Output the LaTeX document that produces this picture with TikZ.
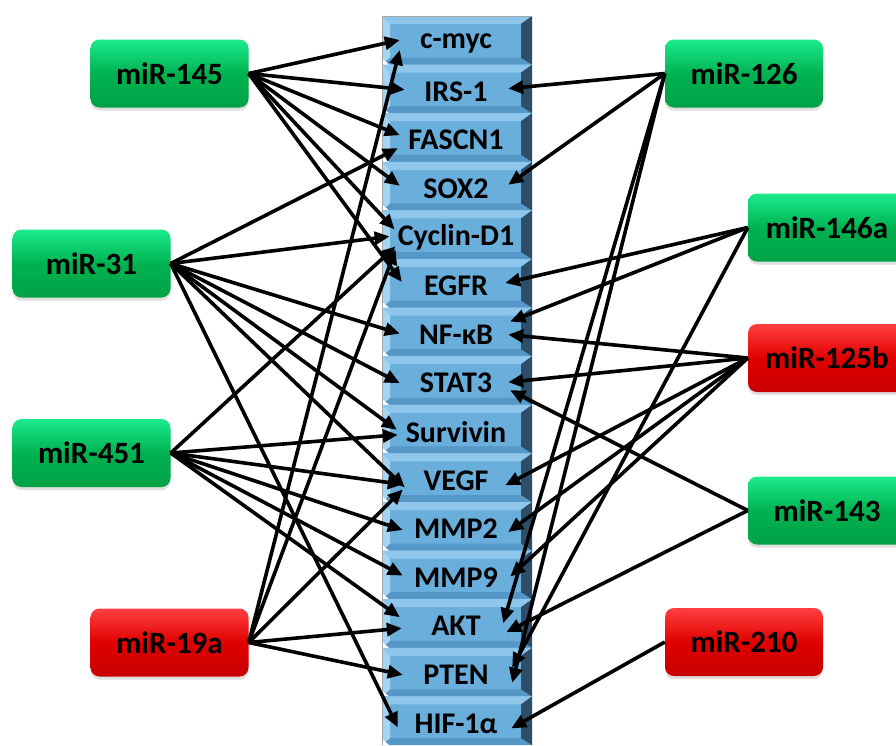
\documentclass[tikz,border=0pt]{standalone}
\usepackage{fontspec}
\setmainfont{Carlito}
\usetikzlibrary{arrows.meta,calc,shadows}
\definecolor{segmain}{HTML}{6AAEDB}
\definecolor{segtop}{HTML}{8FC7EC}
\definecolor{segbot}{HTML}{5597C6}
\definecolor{segright}{HTML}{2C4E68}
\definecolor{segleft}{HTML}{A6D5F2}
\definecolor{greenTop}{HTML}{1CEB8E}
\definecolor{greenMid}{HTML}{00B250}
\definecolor{greenBot}{HTML}{00A244}
\definecolor{redTop}{HTML}{FF4040}
\definecolor{redMid}{HTML}{E00000}
\definecolor{redBot}{HTML}{C80000}
\begin{document}
\begin{tikzpicture}[x=1pt,y=-1pt,
  mirbox/.style={rounded corners=9pt, minimum width=158pt, minimum height=68pt, inner sep=0pt,
    font=\bfseries\fontsize{31}{32}\selectfont,
    drop shadow={shadow xshift=0pt, shadow yshift=-3pt, opacity=0.25}},
  greenbox/.style={mirbox, top color=greenTop, bottom color=greenBot, middle color=greenMid},
  redbox/.style={mirbox, top color=redTop, bottom color=redBot, middle color=redMid},
  gene/.style={minimum width=112pt, minimum height=40pt, inner sep=0pt,
    font=\bfseries\fontsize{30}{31}\selectfont},
  arr/.style={line width=3.6pt, -{Triangle[length=15pt,width=13pt]}}]
\useasboundingbox (0,0) rectangle (896,745);
\clip (0,0) rectangle (896,745);
\fill[white] (0,0) rectangle (896,745);
% central column
\foreach \i in {0,...,14}{
  \pgfmathsetmacro\t{16+48.6*\i}
  \pgfmathsetmacro\b{\t+48.6}
  \fill[segmain] (382,\t) rectangle (532,\b);
  \fill[segtop] (382,\t) -- (532,\t) -- (521,\t+8) -- (390,\t+8) -- cycle;
  \fill[segbot] (390,\b-7) -- (521,\b-7) -- (532,\b) -- (382,\b) -- cycle;
  \fill[segright] (521,\t+8) -- (532,\t) -- (532,\b) -- (521,\b-7) -- cycle;
  \fill[segleft] (382,\t) -- (390,\t+8) -- (390,\b-7) -- (382,\b) -- cycle;
  \fill[white] (382,\b-6) -- (389,\b) -- (382,\b+6) -- cycle;
}
\draw[gray!70, line width=1pt] (382,745) -- (382,16) -- (532,16);
% genes
\foreach \nm/\lab [count=\i from 0] in {cmyc/c-myc, irs/IRS-1, fascn/FASCN1, sox/SOX2, cyc/Cyclin-D1,
    egfr/EGFR, nfkb/NF-κB, stat/STAT3, surv/Survivin, vegf/VEGF, mmpa/MMP2, mmpb/MMP9,
    akt/AKT, pten/PTEN, hif/HIF-1α}{
  \node[gene] (\nm) at (456,{43+48.6*\i}) {\lab};
}
% miRNA boxes
\node[greenbox] (m145) at (169.5,73.5) {miR-145};
\node[greenbox] (m31) at (91.5,263.5) {miR-31};
\node[greenbox] (m451) at (91.5,453) {miR-451};
\node[redbox] (m19a) at (169.5,642.5) {miR-19a};
\node[greenbox] (m126) at (744,73.5) {miR-126};
\node[greenbox] (m146a) at (827,227.5) {miR-146a};
\node[redbox] (m125b) at (827,358) {miR-125b};
\node[greenbox] (m143) at (827,510.5) {miR-143};
\node[redbox] (m210) at (744,642) {miR-210};
% left arrows
\draw[arr] (m145.east) -- ($(cmyc.west)+(0,-3)$);
\draw[arr] (m145.east) -- ($(irs.west)+(5,-2)$);
\draw[arr] (m145.east) -- ($(fascn.west)+(0,-5)$);
\draw[arr] (m145.east) -- ($(sox.west)+(0,-3)$);
\draw[arr] (m145.east) -- ($(cyc.west)+(-3,-8)$);
\draw[arr] (m145.east) -- ($(egfr.west)+(2,-4)$);
\draw[arr] (m31.east) -- ($(fascn.west)+(-2,8)$);
\draw[arr] (m31.east) -- ($(cyc.west)+(-8,-1)$);
\draw[arr] (m31.east) -- ($(nfkb.west)+(0,-1)$);
\draw[arr] (m31.east) -- ($(stat.west)+(0,0)$);
\draw[arr] (m31.east) -- ($(surv.west)+(-3,-2)$);
\draw[arr] (m31.east) -- ($(vegf.west)+(5,7)$);
\draw[arr] (m31.east) -- ($(hif.west)+(-2,4)$);
\draw[arr] (m451.east) -- ($(cyc.west)+(-2,9)$);
\draw[arr] (m451.east) -- ($(surv.west)+(-2,3)$);
\draw[arr] (m451.east) -- ($(vegf.west)+(3,4)$);
\draw[arr] (m451.east) -- ($(mmpa.west)+(3,1)$);
\draw[arr] (m451.east) -- ($(mmpb.west)+(3,-2)$);
\draw[arr] (m451.east) -- ($(akt.west)+(0,-9)$);
\draw[arr] (m19a.east) -- ($(cmyc.west)+(0,7)$);
\draw[arr] (m19a.east) -- ($(cyc.west)+(-2,12)$);
\draw[arr] (m19a.east) -- ($(vegf.west)+(3,9)$);
\draw[arr] (m19a.east) -- ($(akt.west)+(2,2)$);
\draw[arr] (m19a.east) -- ($(pten.west)+(3,0)$);
% right arrows
\draw[arr] (m126.west) -- ($(irs.east)+(-4,-3)$);
\draw[arr] (m126.west) -- ($(sox.east)+(-4,-4)$);
\draw[arr] (m126.west) -- ($(akt.east)+(-9,-3)$);
\draw[arr] (m126.west) -- ($(pten.east)+(0,8)$);
\draw[arr] (m146a.west) -- ($(egfr.east)+(-7,-3)$);
\draw[arr] (m146a.west) -- ($(nfkb.east)+(-2,-13)$);
\draw[arr] (m146a.west) -- ($(pten.east)+(0,-7)$);
\draw[arr] (m125b.west) -- ($(nfkb.east)+(-4,0)$);
\draw[arr] (m125b.west) -- ($(stat.east)+(-4,-1)$);
\draw[arr] (m125b.west) -- ($(vegf.east)+(-7,5)$);
\draw[arr] (m125b.west) -- ($(mmpa.east)+(-4,3)$);
\draw[arr] (m125b.west) -- ($(mmpb.east)+(-2,-1)$);
\draw[arr] (m143.west) -- ($(stat.east)+(-2,7)$);
\draw[arr] (m143.west) -- ($(akt.east)+(-6,6)$);
\draw[arr] (m210.west) -- ($(hif.east)+(-1,5)$);
\end{tikzpicture}
\end{document}
